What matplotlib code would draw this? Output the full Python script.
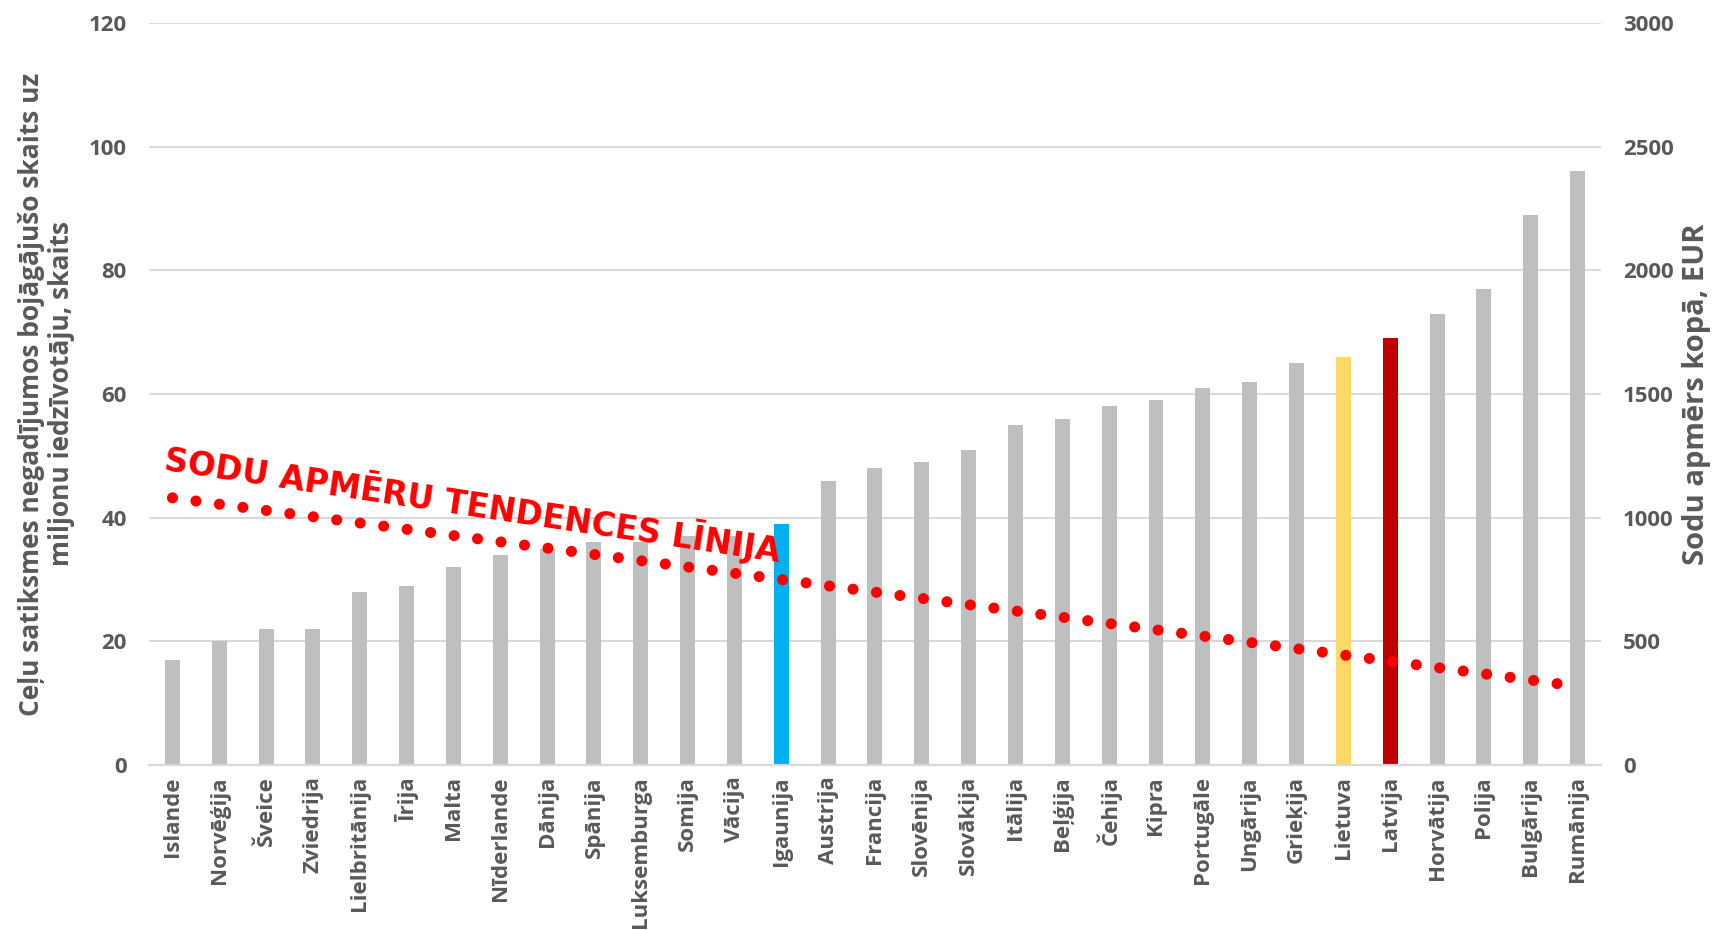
import matplotlib.pyplot as plt
import numpy as np

# ---- data ----
countries = ['Islande', 'Norvēģija', 'Šveice', 'Zviedrija', 'Lielbritānija', 'Īrija',
             'Malta', 'Nīderlande', 'Dānija', 'Spānija', 'Luksemburga', 'Somija',
             'Vācija', 'Igaunija', 'Austrija', 'Francija', 'Slovēnija', 'Slovākija',
             'Itālija', 'Beļģija', 'Čehija', 'Kipra', 'Portugāle', 'Ungārija',
             'Grieķija', 'Lietuva', 'Latvija', 'Horvātija', 'Polija', 'Bulgārija',
             'Rumānija']

# road deaths per million inhabitants
deaths = [17, 20, 22, 22, 28, 29, 32, 34, 35, 36, 36, 37, 37, 39, 46, 48, 49, 51,
          55, 56, 58, 59, 61, 62, 65, 66, 69, 73, 77, 89, 96]

# linear trend of total fines (EUR), first and last category
trend_x = [0, 30]
trend_fines = [1080, 318]

highlight = {'Igaunija': '#00B0F0', 'Lietuva': '#FFD966', 'Latvija': '#C00000'}

# ---- plot ----
plt.rcParams['font.family'] = ['Open Sans', 'DejaVu Sans']
txt = '#595959'
grid = '#D9D9D9'

fig = plt.figure(figsize=(17.17, 9.3), dpi=100)
ax = fig.add_axes([0.0868, 0.1774, 0.8456, 0.7979])
ax2 = ax.twinx()

x = np.arange(len(countries))
colors = [highlight.get(c, '#BFBFBF') for c in countries]
ax.bar(x, deaths, width=0.32, color=colors, zorder=2)

ax.set_xlim(-0.5, len(countries) - 0.5)
ax.set_ylim(0, 120)
ax.set_yticks(np.arange(0, 121, 20))
ax.grid(True, axis='y', color=grid, linewidth=1.5, zorder=0)
ax.set_axisbelow(True)

ax2.set_ylim(0, 3000)
ax2.set_yticks(np.arange(0, 3001, 500))

# trend line of fines (dotted)
ax2.plot(trend_x, trend_fines, color='#FF0000', linewidth=8,
         linestyle=(0, (0.001, 2.13)), dash_capstyle='round', zorder=3)

ax.set_xticks(x)
ax.set_xticklabels(countries, rotation=90, fontsize=16, fontweight='bold', color=txt)
ax.tick_params(axis='x', length=0, pad=8)
ax.tick_params(axis='y', length=0, pad=16, labelsize=16, labelcolor=txt)
ax2.tick_params(axis='y', length=0, pad=16, labelsize=16, labelcolor=txt)
for lab in ax.get_yticklabels() + ax2.get_yticklabels():
    lab.set_fontweight('bold')

for a in (ax, ax2):
    for s in ('top', 'left', 'right'):
        a.spines[s].set_visible(False)
    a.spines['bottom'].set_color(grid)
    a.spines['bottom'].set_linewidth(1.5)

ax.set_ylabel('Ceļu satiksmes negadījumos bojāgājušo skaits uz\nmiljonu iedzīvotāju, skaits',
              fontsize=19, fontweight='bold', color=txt, labelpad=10, linespacing=1.15)
ax2.set_ylabel('Sodu apmērs kopā, EUR', fontsize=21, fontweight='bold', color=txt,
               rotation=90, labelpad=6)

ax.text(-0.2, 47.7, 'SODU APMĒRU TENDENCES LĪNIJA', color='#FF0000', fontsize=23.5,
        fontweight='bold', family='DejaVu Sans', rotation=-8.5, rotation_mode='anchor',
        ha='left', va='baseline', zorder=4)

fig.savefig('out.png', dpi=100)
